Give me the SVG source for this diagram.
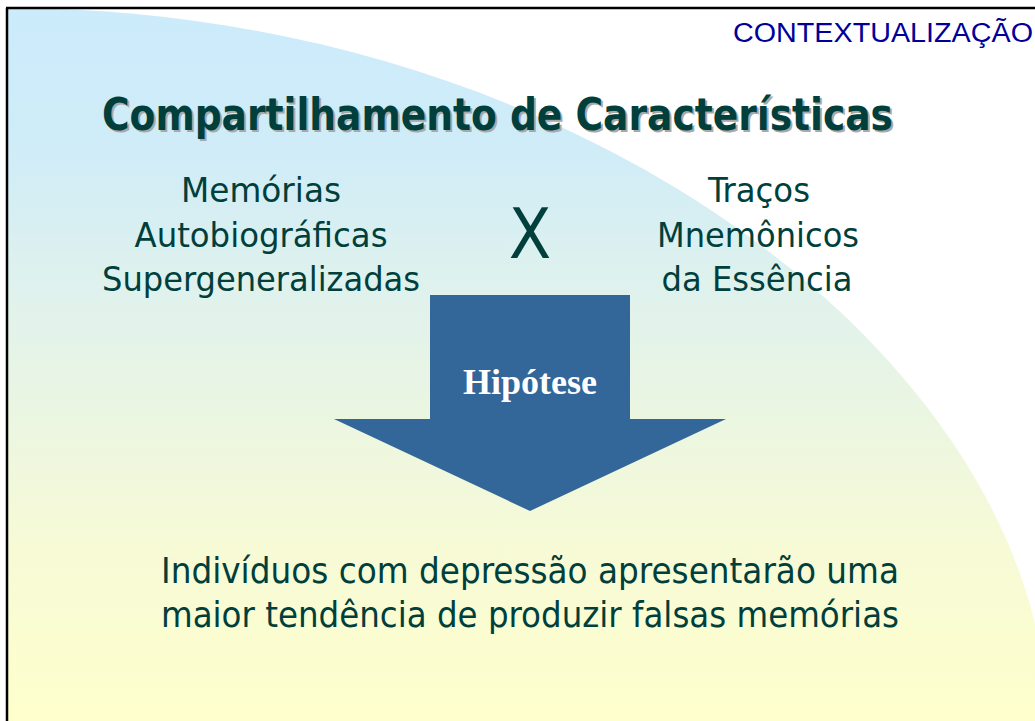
<svg xmlns="http://www.w3.org/2000/svg" width="1035" height="721" viewBox="0 0 1035 721">
  <defs>
    <linearGradient id="bgGrad" x1="0" y1="0" x2="0" y2="721" gradientUnits="userSpaceOnUse">
      <stop offset="0" stop-color="#CCEBFB"/>
      <stop offset="0.2" stop-color="#CFECF8"/>
      <stop offset="0.45" stop-color="#E3F3EA"/>
      <stop offset="0.75" stop-color="#F6FAD6"/>
      <stop offset="1" stop-color="#FFFFCC"/>
    </linearGradient>
  </defs>
  <style>
    .body { font-family: "DejaVu Sans Condensed", "DejaVu Sans", sans-serif; fill: #003F3C; font-size: 34px; text-anchor: middle; }
    .title { font-family: "DejaVu Sans Condensed", "DejaVu Sans", sans-serif; font-weight: bold; font-size: 44px; }
    .concl { font-family: "DejaVu Sans Condensed", "DejaVu Sans", sans-serif; fill: #003F3C; font-size: 35px; }
  </style>
  <rect x="0" y="0" width="1035" height="721" fill="#FFFFFF"/>
  <g id="background">
    <path d="M7,8 C578,8 1040,360 1048,721 L7,721 Z" fill="url(#bgGrad)"/>
    <line x1="7" y1="8" x2="7" y2="721" stroke="#000000" stroke-width="2.5"/>
    <line x1="6" y1="8" x2="1035" y2="8" stroke="#000000" stroke-width="2.5"/>
  </g>
  <g id="section-label">
    <text x="733" y="42" font-family="'Liberation Sans', Arial, sans-serif" font-size="27" fill="#000099" textLength="300" lengthAdjust="spacingAndGlyphs">CONTEXTUALIZAÇÃO</text>
  </g>
  <g id="title">
    <text class="title" x="104" y="132" fill="#A8A8A8" textLength="791" lengthAdjust="spacingAndGlyphs">Compartilhamento de Características</text>
    <text class="title" x="102" y="130" fill="#003F3C" textLength="791" lengthAdjust="spacingAndGlyphs">Compartilhamento de Características</text>
  </g>
  <g id="left-concept">
    <text class="body" x="261" y="202" textLength="160" lengthAdjust="spacingAndGlyphs">Memórias</text>
    <text class="body" x="261" y="247" textLength="253" lengthAdjust="spacingAndGlyphs">Autobiográficas</text>
    <text class="body" x="261" y="291" textLength="318" lengthAdjust="spacingAndGlyphs">Supergeneralizadas</text>
  </g>
  <g id="versus">
    <text x="530" y="258" font-family="'DejaVu Sans Condensed', 'DejaVu Sans', sans-serif" font-size="69" fill="#003F3C" text-anchor="middle">X</text>
  </g>
  <g id="right-concept">
    <text class="body" x="759" y="202" textLength="102" lengthAdjust="spacingAndGlyphs">Traços</text>
    <text class="body" x="758" y="247" textLength="202" lengthAdjust="spacingAndGlyphs">Mnemônicos</text>
    <text class="body" x="757" y="291" textLength="191" lengthAdjust="spacingAndGlyphs">da Essência</text>
  </g>
  <g id="hypothesis-arrow">
    <polygon points="430,295 630,295 630,419 726,419 530,511 334,419 430,419" fill="#336699"/>
    <text x="530" y="394" font-family="'Liberation Serif', 'Times New Roman', serif" font-weight="bold" font-size="36" fill="#FFFFFF" text-anchor="middle">Hipótese</text>
  </g>
  <g id="conclusion">
    <text class="concl" x="161" y="583" textLength="738" lengthAdjust="spacingAndGlyphs">Indivíduos com depressão apresentarão uma</text>
    <text class="concl" x="161" y="627" textLength="738" lengthAdjust="spacingAndGlyphs">maior tendência de produzir falsas memórias</text>
  </g>
</svg>
